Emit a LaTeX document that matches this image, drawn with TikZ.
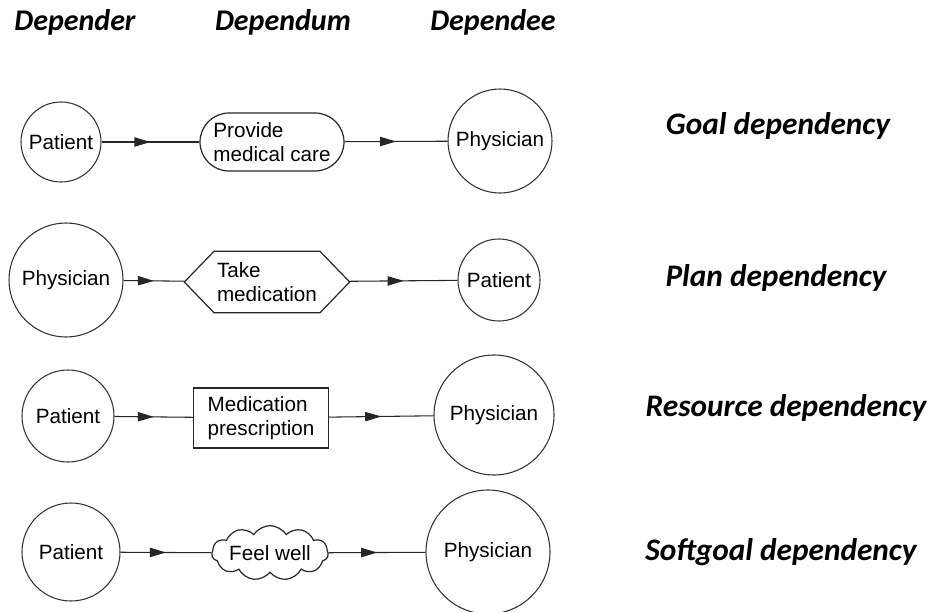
\documentclass[tikz,border=0pt]{standalone}
\usepackage{fontspec}
\usepackage{tikz}
\usetikzlibrary{shapes.geometric}
\usetikzlibrary{shapes.misc}
\usetikzlibrary{shapes.symbols}
\usetikzlibrary{arrows.meta}
\usetikzlibrary{decorations.markings}
\newfontfamily\arialfont{Liberation Sans}
\newfontfamily\calfont{Carlito}

\tikzset{
  actor/.style={draw=black!80, line width=0.8pt, circle, inner sep=0pt, font=\arialfont\fontsize{15.5}{18.5}\selectfont},
  dumtext/.style={draw=black!85, line width=0.9pt, inner sep=2pt, align=left, font=\arialfont\fontsize{15.5}{18.5}\selectfont},
  heading/.style={font=\calfont\bfseries\itshape\fontsize{22.5}{26}\selectfont, inner sep=0pt},
  kind/.style={font=\calfont\bfseries\itshape\fontsize{23.5}{27}\selectfont, inner sep=0pt},
  dep/.style={draw=black!85, line width=0.8pt, postaction={decorate},
    decoration={markings, mark=at position 0.5 with {\arrow{Triangle[length=12pt,width=7pt]}}}}
}

\begin{document}
\begin{tikzpicture}[x=0.75pt,y=0.75pt,yscale=-1,xscale=1]
  \useasboundingbox (0,0) rectangle (929,611); %same size as the reference

  % Headings
  \node [heading] (hder) at (75,22) {Depender};
  \node [heading] (hdum) at (283,22) {Dependum};
  \node [heading] (hdee) at (493,22) {Dependee};

  % Goal dependency
  \node [actor, minimum size=60pt] (pat1) at (61,142) {Patient};
  \node [dumtext, rounded rectangle, minimum width=112pt, minimum height=43.5pt] (goal) at (272,142) {Provide\\medical care};
  \node [actor, minimum size=78pt] (phy1) at (500,141) {Physician};
  \draw [dep] (pat1) -- (goal);
  \draw [dep] (goal) -- (phy1);
  \node [kind] (lgoal) at (778,126) {Goal dependency};

  % Plan dependency
  \node [actor, minimum size=85.5pt] (phy2) at (66,280) {Physician};
  \node [dumtext, signal, signal to=east and west, signal pointer angle=92, minimum width=124pt, minimum height=46pt] (plan) at (267,282) {Take\\medication};
  \node [actor, minimum size=61.5pt] (pat2) at (499,280) {Patient};
  \draw [dep] (phy2) -- (plan);
  \draw [dep] (plan) -- (pat2);
  \node [kind] (lplan) at (776,278) {Plan dependency};

  % Resource dependency
  \node [actor, minimum size=69pt] (pat3) at (68,416) {Patient};
  \node [dumtext, rectangle, minimum width=101pt, minimum height=45pt] (res) at (261,418) {Medication\\prescription};
  \node [actor, minimum size=90pt] (phy3) at (494,415) {Physician};
  \draw [dep] (pat3) -- (res);
  \draw [dep] (res) -- (phy3);
  \node [kind] (lres) at (786,408) {Resource dependency};

  % Softgoal dependency
  \node [actor, minimum size=73.5pt] (pat4) at (71,552) {Patient};
  \node [dumtext, cloud, cloud puffs=11, cloud puff arc=115, aspect=3, inner sep=0pt, minimum width=74pt, minimum height=30pt] (soft) at (270,553) {Feel well};
  \node [actor, minimum size=93pt] (phy4) at (488,552) {Physician};
  \draw [dep] (pat4) -- (soft);
  \draw [dep] (soft) -- (phy4);
  \node [kind] (lsoft) at (781,552) {Softgoal dependency};
\end{tikzpicture}
\end{document}
